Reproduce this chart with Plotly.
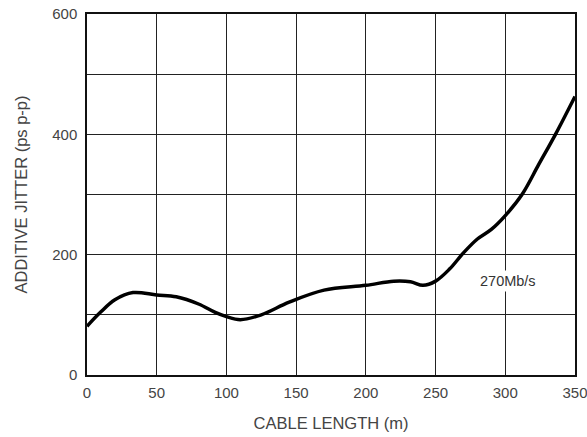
import plotly.graph_objects as go

cable_length = [0, 10, 20, 33, 50, 64, 80, 92, 100, 110, 125, 145, 170, 200, 220, 232, 241, 250, 260, 270, 280, 290, 300, 312, 324, 336, 350]
jitter = [81, 105, 125, 137, 133, 130, 118, 104, 97, 92, 100, 121, 141, 149, 156, 155, 149, 156, 176, 203, 226, 242, 265, 300, 350, 400, 463]

x_ticks = [0, 50, 100, 150, 200, 250, 300, 350]
y_ticks = [0, 100, 200, 300, 400, 500, 600]
y_ticktext = ["0", "", "200", "", "400", "", "600"]

fig = go.Figure()
fig.add_trace(go.Scatter(
    x=cable_length, y=jitter, mode="lines",
    line=dict(color="black", width=3.5, shape="spline", smoothing=1.0),
    showlegend=False, hoverinfo="skip",
))

fig.add_annotation(x=302, y=157, text="270Mb/s", showarrow=False,
                   font=dict(family="Liberation Sans, Arial, sans-serif", size=14.5, color="#333"),
                   bgcolor="white", borderpad=2)

tick_font = dict(family="Liberation Sans, Arial, sans-serif", size=15, color="#444")
title_font = dict(family="Liberation Sans, Arial, sans-serif", size=16.5, color="#444")

fig.update_layout(
    width=587, height=437,
    margin=dict(l=87, r=12, t=14, b=62),
    paper_bgcolor="white", plot_bgcolor="white",
    font=tick_font,
    xaxis=dict(
        range=[0, 350], tickvals=x_ticks, ticktext=[str(v) for v in x_ticks],
        showgrid=True, gridcolor="#222", gridwidth=1,
        showline=True, linecolor="#111", linewidth=1.5, mirror=True,
        ticks="", zeroline=False, automargin=False, ticklabelstandoff=3,
        ticklabeloverflow="allow",
        title=dict(text="CABLE LENGTH (m)", font=title_font, standoff=18),
        tickfont=tick_font,
    ),
    yaxis=dict(
        range=[0, 600], tickvals=y_ticks, ticktext=y_ticktext,
        showgrid=True, gridcolor="#222", gridwidth=1,
        showline=True, linecolor="#111", linewidth=1.5, mirror=True,
        ticks="", zeroline=False, automargin=False, ticklabelstandoff=5,
        ticklabeloverflow="allow",
        title=dict(text="ADDITIVE JITTER (ps p-p)", font=title_font, standoff=20),
        tickfont=tick_font,
    ),
)

fig.write_html("out.html", config={"displayModeBar": False},
               post_script="document.body.style.margin='0';")
